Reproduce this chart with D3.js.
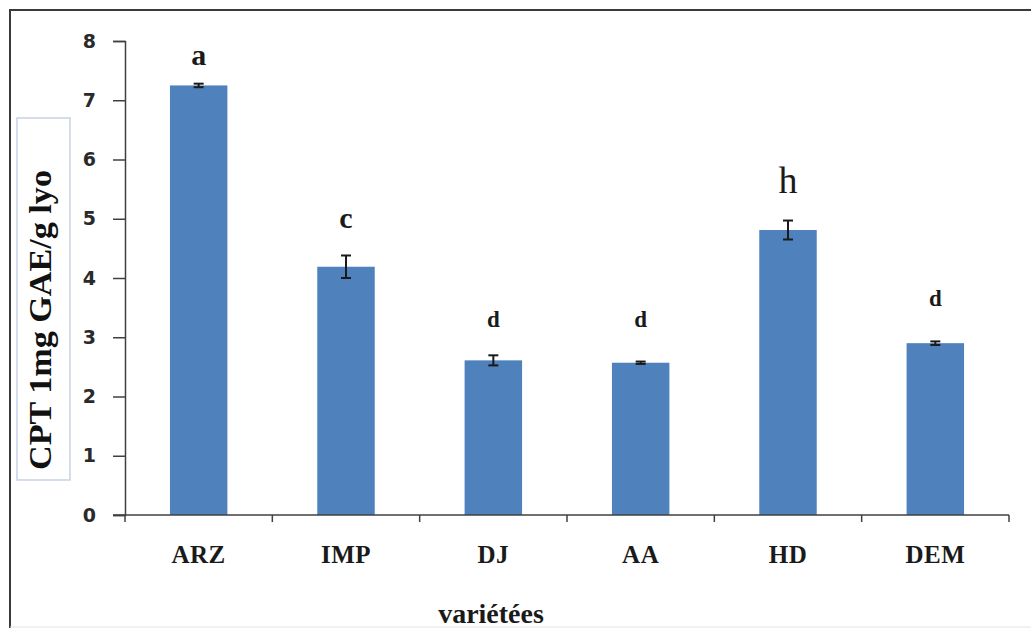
<!DOCTYPE html>
<html>
<head>
<meta charset="utf-8">
<script src="https://cdn.jsdelivr.net/npm/d3@7"></script>
<style>
  body { margin: 0; background: #fff; }
</style>
</head>
<body>
<svg id="chart" width="1031" height="628"></svg>
<script>
const varieties = ["ARZ", "IMP", "DJ", "AA", "HD", "DEM"];
const cptValues = [7.25, 4.19, 2.61, 2.57, 4.81, 2.90];
const cptErrors = [0.03, 0.19, 0.085, 0.02, 0.16, 0.03];
const groupLetters = ["a", "c", "d", "d", "h", "d"];
const letterLevels = [7.59, 4.84, 3.18, 3.18, 5.44, 3.52];
const yTicks = [0, 1, 2, 3, 4, 5, 6, 7, 8];

const svg = d3.select("#chart");
const margin = { left: 125, right: 22, top: 41, bottom: 113 };
const width = +svg.attr("width");
const height = +svg.attr("height");

// outer frame (left + top only, faint bottom)
svg.append("path")
  .attr("d", `M10,${height} L10,10 L${width},10`)
  .attr("fill", "none")
  .attr("stroke", "#3a3a3a")
  .attr("stroke-width", 2);
svg.append("line")
  .attr("x1", 10).attr("x2", width)
  .attr("y1", 627).attr("y2", 627)
  .attr("stroke", "#e4e4e4");

const x = d3.scaleBand()
  .domain(varieties)
  .range([margin.left, width - margin.right])
  .paddingInner(0.61)
  .paddingOuter(0.305);

const y = d3.scaleLinear()
  .domain([0, 8])
  .range([height - margin.bottom, margin.top]);

const band = (width - margin.right - margin.left) / varieties.length;
const serif = "'Liberation Serif', 'Times New Roman', serif";

// bars
svg.append("g")
  .selectAll("rect")
  .data(varieties)
  .join("rect")
  .attr("x", d => x(d))
  .attr("y", (d, i) => y(cptValues[i]))
  .attr("width", x.bandwidth())
  .attr("height", (d, i) => y(0) - y(cptValues[i]))
  .attr("fill", "#4f81bd");

// error bars
const err = svg.append("g")
  .attr("stroke", "#1a1a1a")
  .attr("stroke-width", 2);
varieties.forEach((v, i) => {
  const cx = x(v) + x.bandwidth() / 2;
  const lo = y(cptValues[i] - cptErrors[i]);
  const hi = y(cptValues[i] + cptErrors[i]);
  err.append("line").attr("x1", cx).attr("x2", cx).attr("y1", lo).attr("y2", hi);
  err.append("line").attr("x1", cx - 5).attr("x2", cx + 5).attr("y1", lo).attr("y2", lo);
  err.append("line").attr("x1", cx - 5).attr("x2", cx + 5).attr("y1", hi).attr("y2", hi);
});

// y axis
const yAxis = svg.append("g")
  .attr("transform", `translate(${margin.left},0)`)
  .call(d3.axisLeft(y).tickValues(yTicks).tickSize(12).tickPadding(17).tickFormat(d3.format("d")));
yAxis.select(".domain").attr("stroke", "#404040").attr("stroke-width", 1.5);
yAxis.selectAll(".tick line").attr("stroke", "#404040").attr("stroke-width", 1.5);
yAxis.selectAll(".tick text")
  .attr("fill", "#2a2a2a")
  .style("font-family", "'DejaVu Sans', Verdana, sans-serif")
  .style("font-weight", "bold")
  .style("font-size", "19px");

// x axis line with boundary ticks
const xAxis = svg.append("g");
xAxis.append("line")
  .attr("x1", margin.left - 12).attr("x2", width - margin.right)
  .attr("y1", y(0)).attr("y2", y(0))
  .attr("stroke", "#404040").attr("stroke-width", 1.5);
xAxis.selectAll("line.tick")
  .data(d3.range(varieties.length + 1))
  .join("line")
  .attr("class", "tick")
  .attr("x1", i => margin.left + i * band)
  .attr("x2", i => margin.left + i * band)
  .attr("y1", y(0)).attr("y2", y(0) + 7)
  .attr("stroke", "#404040").attr("stroke-width", 1.5);
xAxis.selectAll("text")
  .data(varieties)
  .join("text")
  .attr("x", d => x(d) + x.bandwidth() / 2)
  .attr("y", 563)
  .attr("text-anchor", "middle")
  .style("font-family", serif)
  .style("font-weight", "bold")
  .style("font-size", "25px")
  .style("letter-spacing", "0.5px")
  .attr("fill", "#1a1a1a")
  .text(d => d);

// significance letters
const letterSize = l => l === "h" ? 38 : (l === "d" ? 23 : 30);
svg.append("g")
  .selectAll("text")
  .data(varieties)
  .join("text")
  .attr("x", d => x(d) + x.bandwidth() / 2)
  .attr("y", (d, i) => y(letterLevels[i]))
  .attr("text-anchor", "middle")
  .style("font-family", serif)
  .style("font-weight", (d, i) => groupLetters[i] === "h" ? "normal" : "bold")
  .style("font-size", (d, i) => letterSize(groupLetters[i]) + "px")
  .attr("fill", "#1a1a1a")
  .text((d, i) => groupLetters[i]);

// x title
svg.append("text")
  .attr("x", 491)
  .attr("y", 623)
  .attr("text-anchor", "middle")
  .style("font-family", serif)
  .style("font-weight", "bold")
  .style("font-size", "28px")
  .attr("fill", "#1a1a1a")
  .text("variétées");

// y title in box
svg.append("rect")
  .attr("x", 17).attr("y", 118)
  .attr("width", 53).attr("height", 362)
  .attr("fill", "#fff")
  .attr("stroke", "#c9d2e3")
  .attr("stroke-width", 1.5);
svg.append("text")
  .attr("transform", "translate(51,320) rotate(-90)")
  .attr("text-anchor", "middle")
  .attr("textLength", 300)
  .attr("lengthAdjust", "spacingAndGlyphs")
  .style("font-family", serif)
  .style("font-weight", "bold")
  .style("font-size", "31px")
  .attr("fill", "#111")
  .text("CPT 1mg GAE/g lyo");
</script>
</body>
</html>
